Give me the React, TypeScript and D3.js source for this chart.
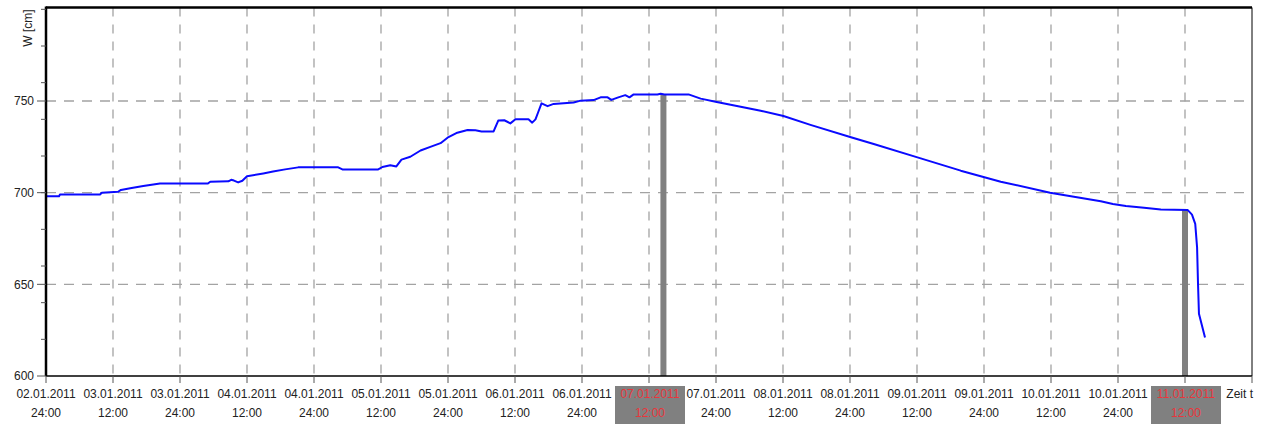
import React from 'react';
import * as d3 from 'd3';

const parse = d3.utcParse('%d.%m.%Y %H:%M');

// water level readings
const times = [
  '03.01.2011 00:00', '03.01.2011 02:20', '03.01.2011 02:30', '03.01.2011 09:40', '03.01.2011 10:00',
  '03.01.2011 12:55', '03.01.2011 13:25', '03.01.2011 15:05', '03.01.2011 17:25', '03.01.2011 20:25',
  '04.01.2011 05:00', '04.01.2011 05:25', '04.01.2011 08:40', '04.01.2011 09:10', '04.01.2011 09:40',
  '04.01.2011 10:25', '04.01.2011 11:10', '04.01.2011 12:00', '04.01.2011 14:55', '04.01.2011 16:40',
  '04.01.2011 18:50', '04.01.2011 21:10', '05.01.2011 04:20', '05.01.2011 05:05', '05.01.2011 11:30',
  '05.01.2011 12:15', '05.01.2011 13:40', '05.01.2011 14:45', '05.01.2011 15:40', '05.01.2011 17:15',
  '05.01.2011 19:05', '05.01.2011 20:50', '05.01.2011 22:40', '05.01.2011 23:55', '06.01.2011 01:40',
  '06.01.2011 03:30', '06.01.2011 04:55', '06.01.2011 06:00', '06.01.2011 08:10', '06.01.2011 09:00',
  '06.01.2011 10:05', '06.01.2011 11:10', '06.01.2011 12:05', '06.01.2011 14:25', '06.01.2011 15:05',
  '06.01.2011 15:40', '06.01.2011 16:10', '06.01.2011 16:45', '06.01.2011 17:50', '06.01.2011 18:55',
  '06.01.2011 22:30', '06.01.2011 23:45', '07.01.2011 02:05', '07.01.2011 03:20', '07.01.2011 04:35',
  '07.01.2011 05:15', '07.01.2011 06:30', '07.01.2011 07:45', '07.01.2011 08:30', '07.01.2011 09:15',
  '07.01.2011 13:30', '07.01.2011 14:05', '07.01.2011 14:45', '07.01.2011 19:05', '07.01.2011 21:15',
  '07.01.2011 23:55', '08.01.2011 04:25', '08.01.2011 08:00', '08.01.2011 12:05', '08.01.2011 16:55',
  '09.01.2011 00:10', '09.01.2011 04:15', '09.01.2011 12:40', '09.01.2011 19:50', '10.01.2011 03:00',
  '10.01.2011 11:50', '10.01.2011 20:55', '10.01.2011 23:05', '11.01.2011 01:25', '11.01.2011 04:40',
  '11.01.2011 07:40', '11.01.2011 12:30', '11.01.2011 13:15', '11.01.2011 13:50', '11.01.2011 14:10',
  '11.01.2011 14:20', '11.01.2011 14:30', '11.01.2011 15:35',
];
const levels = [
  698, 698, 699, 699, 700,
  700.5, 701.5, 702.4, 703.6, 705,
  705, 706, 706.2, 707, 706.6,
  705.6, 706.5, 709, 710.5, 711.5,
  712.7, 713.8, 713.8, 712.7, 712.7,
  714, 715, 714.3, 718, 719.6,
  723, 725, 727, 730, 732.7,
  734.2, 734, 733.4, 733.4, 739.3,
  739.5, 737.8, 740, 740, 738.2,
  740, 744, 748.7, 747.2, 748.4,
  749.2, 750.2, 750.5, 752, 752,
  750.6, 752, 753.2, 752, 753.6,
  753.6, 754, 753.6, 753.6, 751.3,
  749.6, 746.9, 744.7, 741.8, 737,
  730.2, 726.5, 718.7, 712, 706,
  700, 695.3, 693.8, 692.7, 691.8,
  690.8, 690.5, 688, 683, 670,
  650, 634, 621,
];

const eventTimes = ['07.01.2011 14:35', '11.01.2011 12:00'];
const eventLevels = [753.6, 690.5];

const tickDates = [
  '02.01.2011', '03.01.2011', '03.01.2011', '04.01.2011', '04.01.2011', '05.01.2011',
  '05.01.2011', '06.01.2011', '06.01.2011', '07.01.2011', '07.01.2011', '08.01.2011',
  '08.01.2011', '09.01.2011', '09.01.2011', '10.01.2011', '10.01.2011', '11.01.2011',
];
const tickTimes = [
  '24:00', '12:00', '24:00', '12:00', '24:00', '12:00',
  '24:00', '12:00', '24:00', '12:00', '24:00', '12:00',
  '24:00', '12:00', '24:00', '12:00', '24:00', '12:00',
];
const highlightedTicks = [9, 17];

const yLabels = [600, 650, 700, 750];
const yMinor = [620, 640, 660, 680, 700, 720, 740, 760, 780, 800];

const W = 1263;
const H = 424;
const margin = { top: 7.5, right: 11, bottom: 48, left: 46 };
const font = '"Liberation Sans", Arial, sans-serif';

const App = () => {
  const x = d3
    .scaleUtc()
    .domain([parse('03.01.2011 00:00')!, parse('12.01.2011 00:00')!])
    .range([margin.left, W - margin.right]);
  const y = d3
    .scaleLinear()
    .domain([600, 801])
    .range([H - margin.bottom, margin.top]);

  const xTicks = x.ticks(d3.utcHour.every(12)!);
  const data = times.map((t, i) => ({ t: parse(t)!, v: levels[i] }));
  const line = d3
    .line<{ t: Date; v: number }>()
    .x(d => x(d.t))
    .y(d => y(d.v));

  const x0 = margin.left;
  const x1 = W - margin.right;
  const y0 = y(600);
  const yTop = margin.top;

  return (
    <svg width={W} height={H} style={{ position: 'absolute', left: 0, top: 0 }} fontFamily={font}>
      <rect width={W} height={H} fill="#fff" />

      {/* grid */}
      {xTicks.slice(1, -1).map((t, i) => (
        <line key={'gx' + i} x1={x(t)} x2={x(t)} y1={yTop} y2={y0}
          stroke="#a3a3a3" strokeWidth={1.3} strokeDasharray="9,8" />
      ))}
      {yLabels.slice(1).map(v => (
        <line key={'gy' + v} x1={x0} x2={x1} y1={y(v)} y2={y(v)}
          stroke="#a3a3a3" strokeWidth={1.3} strokeDasharray="10,8" />
      ))}

      {/* event bars */}
      {eventTimes.map((t, i) => (
        <rect key={'ev' + i} x={x(parse(t)!) - 3} width={6} y={y(eventLevels[i])}
          height={y0 - y(eventLevels[i])} fill="#808080" />
      ))}

      <path d={line(data) ?? ''} fill="none" stroke="#0a0aff" strokeWidth={2} strokeLinejoin="round" />

      {/* frame */}
      <line x1={x1} x2={x1} y1={yTop} y2={y0} stroke="#000" strokeWidth={1} />
      <line x1={x0} x2={x1} y1={y0} y2={y0} stroke="#000" strokeWidth={1.5} />
      <line x1={x0} x2={x1} y1={yTop} y2={yTop} stroke="#000" strokeWidth={2.5} />
      <line x1={x0} x2={x0} y1={yTop - 1} y2={y0} stroke="#000" strokeWidth={2.5} />

      {/* y axis */}
      {yMinor.map(v => (
        <line key={'ym' + v} x1={x0 - 5} x2={x0} y1={y(v)} y2={y(v)} stroke="#555" strokeWidth={1} />
      ))}
      {yLabels.map(v => (
        <g key={'yl' + v}>
          <line x1={x0 - 9} x2={x0} y1={y(v)} y2={y(v)} stroke="#555" strokeWidth={1} />
          <text x={34} y={y(v)} dy="0.35em" textAnchor="end" fontSize={12} fill="#222">{v}</text>
        </g>
      ))}
      <text transform="translate(32,28) rotate(-90)" textAnchor="middle" fontSize={12} fill="#222">W [cm]</text>

      {/* x axis */}
      {xTicks.map((t, i) => (
        <line key={'xt' + i} x1={x(t)} x2={x(t)} y1={y0} y2={y0 + 7} stroke="#555" strokeWidth={1} />
      ))}
      {tickDates.map((d, i) => {
        const cx = x(xTicks[i]);
        const hl = highlightedTicks.includes(i);
        return (
          <g key={'xl' + i}>
            {hl && <rect x={cx - 34} y={386} width={70} height={40} fill="#808080" />}
            <text x={cx + (hl ? 1 : 0)} y={398} textAnchor="middle" fontSize={12} fill={hl ? '#e8363c' : '#222'}>{d}</text>
            <text x={cx + (hl ? 1 : 0)} y={417} textAnchor="middle" fontSize={12} fill={hl ? '#e8363c' : '#222'}>{tickTimes[i]}</text>
          </g>
        );
      })}
      <text x={x1 + 1} y={398} textAnchor="end" fontSize={12} fill="#222">Zeit t</text>
    </svg>
  );
};

export default App;
